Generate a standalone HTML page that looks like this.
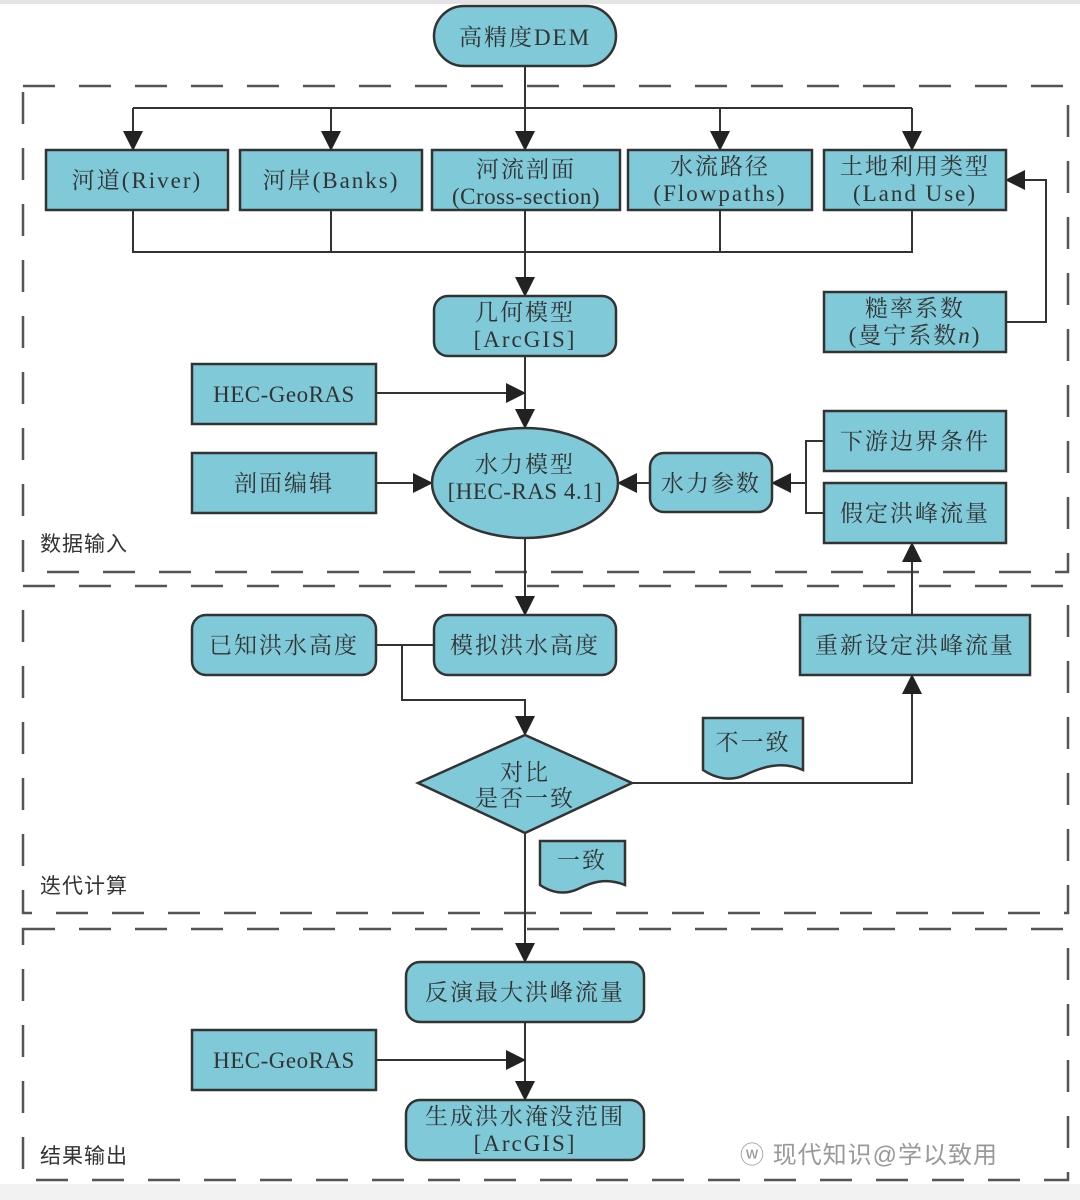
<!DOCTYPE html>
<html><head><meta charset="utf-8"><style>
html,body{margin:0;padding:0;background:#fff}
svg{display:block}
text{font-family:"Liberation Serif","Noto Serif CJK SC",serif;fill:#333;font-size:23px;text-anchor:middle;letter-spacing:2px}
.l{text-anchor:start;font-family:"Liberation Sans","Noto Sans CJK SC",sans-serif;font-size:21px;letter-spacing:1px}
.b{fill:#7fc9d8;stroke:#333;stroke-width:2.5}
.c{fill:none;stroke:#333;stroke-width:2}
.d{fill:none;stroke:#555;stroke-width:2.5;stroke-dasharray:32,24}
</style></head><body>
<svg width="1080" height="1200" viewBox="0 0 1080 1200" xmlns="http://www.w3.org/2000/svg">
<defs><marker id="a" markerWidth="20" markerHeight="20" refX="19" refY="10" orient="auto" markerUnits="userSpaceOnUse"><path d="M0,0 L20,10 L0,20 Z" fill="#222"/></marker></defs>
<rect x="0" y="0" width="1080" height="4" fill="#e4e4e4"/>
<rect x="0" y="1184" width="1080" height="16" fill="#f2f2f2"/>
<rect class="d" x="23" y="86" width="1045" height="486"/>
<rect class="d" x="23" y="586" width="1045" height="327"/>
<rect class="d" x="23" y="929" width="1045" height="251"/>
<text class="l" x="40" y="551">数据输入</text>
<text class="l" x="40" y="893">迭代计算</text>
<text class="l" x="40" y="1163">结果输出</text>
<path class="c" d="M525,66 V150" marker-end="url(#a)"/>
<path class="c" d="M133,108 H912"/>
<path class="c" d="M133,108 V150" marker-end="url(#a)"/>
<path class="c" d="M331,108 V150" marker-end="url(#a)"/>
<path class="c" d="M720,108 V150" marker-end="url(#a)"/>
<path class="c" d="M912,108 V150" marker-end="url(#a)"/>
<path class="c" d="M133,210 V252 H912 V210 M331,210 V252 M720,210 V252"/>
<path class="c" d="M525,210 V296" marker-end="url(#a)"/>
<path class="c" d="M1006,322 H1046 V180 H1006" marker-end="url(#a)"/>
<path class="c" d="M525,356 V428" marker-end="url(#a)"/>
<path class="c" d="M376,393 H525" marker-end="url(#a)"/>
<path class="c" d="M376,483 H432" marker-end="url(#a)"/>
<path class="c" d="M650,483 H618" marker-end="url(#a)"/>
<path class="c" d="M824,441 H806 V513 H824 M806,483 H772" marker-end="url(#a)"/>
<path class="c" d="M525,538 V615" marker-end="url(#a)"/>
<path class="c" d="M376,645 H434 M402,645 V700 H525 V735" marker-end="url(#a)"/>
<path class="c" d="M632,783 H912 V675" marker-end="url(#a)"/>
<path class="c" d="M912,615 V543" marker-end="url(#a)"/>
<path class="c" d="M525,833 V962" marker-end="url(#a)"/>
<path class="c" d="M525,1022 V1100" marker-end="url(#a)"/>
<path class="c" d="M376,1060 H525" marker-end="url(#a)"/>
<rect class="b" x="434" y="6" width="182" height="60" rx="30"/>
<text x="525" y="45">高精度DEM</text>
<rect class="b" x="46" y="150" width="182" height="60"/><text x="137" y="188">河道(River)</text>
<rect class="b" x="240" y="150" width="182" height="60"/><text x="331" y="188">河岸(Banks)</text>
<rect class="b" x="432" y="150" width="188" height="60"/><text x="526" y="177">河流剖面</text><text x="526" y="204" style="letter-spacing:0.5px">(Cross-section)</text>
<rect class="b" x="628" y="150" width="184" height="60"/><text x="720" y="174">水流路径</text><text x="720" y="201">(Flowpaths)</text>
<rect class="b" x="824" y="150" width="182" height="60"/><text x="915" y="174">土地利用类型</text><text x="915" y="201">(Land Use)</text>
<rect class="b" x="434" y="296" width="182" height="60" rx="14"/><text x="525" y="320">几何模型</text><text x="525" y="347">[ArcGIS]</text>
<rect class="b" x="824" y="292" width="182" height="60"/><text x="915" y="316">糙率系数</text><text x="915" y="343">(曼宁系数<tspan font-style="italic">n</tspan>)</text>
<rect class="b" x="192" y="364" width="184" height="60"/><text x="284" y="402" style="letter-spacing:0.5px">HEC-GeoRAS</text>
<ellipse class="b" cx="525" cy="483" rx="93" ry="55"/><text x="525" y="472">水力模型</text><text x="525" y="499" style="letter-spacing:0.5px">[HEC-RAS 4.1]</text>
<rect class="b" x="192" y="453" width="184" height="60"/><text x="284" y="491">剖面编辑</text>
<rect class="b" x="650" y="453" width="122" height="59" rx="14"/><text x="711" y="491">水力参数</text>
<rect class="b" x="824" y="411" width="182" height="60"/><text x="915" y="449">下游边界条件</text>
<rect class="b" x="824" y="483" width="182" height="60"/><text x="915" y="521">假定洪峰流量</text>
<rect class="b" x="192" y="615" width="184" height="60" rx="14"/><text x="284" y="653">已知洪水高度</text>
<rect class="b" x="434" y="615" width="182" height="60" rx="14"/><text x="525" y="653">模拟洪水高度</text>
<rect class="b" x="800" y="615" width="230" height="60"/><text x="915" y="653">重新设定洪峰流量</text>
<path class="b" d="M418,783 L525,735 L632,783 L525,833 Z"/><text x="525" y="780">对比</text><text x="525" y="806">是否一致</text>
<path class="b" d="M703,718 H803 V770 C780,760 760,768 745,775 C730,782 715,778 703,770 Z"/><text x="753" y="750">不一致</text>
<path class="b" d="M540,841 H625 V885 C605,877 590,883 578,889 C565,895 552,893 540,885 Z"/><text x="582" y="868">一致</text>
<rect class="b" x="406" y="962" width="238" height="60" rx="14"/><text x="525" y="1000">反演最大洪峰流量</text>
<rect class="b" x="192" y="1030" width="184" height="60"/><text x="284" y="1068" style="letter-spacing:0.5px">HEC-GeoRAS</text>
<rect class="b" x="406" y="1100" width="238" height="60" rx="14"/><text x="525" y="1124">生成洪水淹没范围</text><text x="525" y="1151">[ArcGIS]</text>
<text class="l" x="740" y="1163" style="fill:#999;font-size:24px">ⓦ 现代知识@学以致用</text>
</svg>
</body></html>
